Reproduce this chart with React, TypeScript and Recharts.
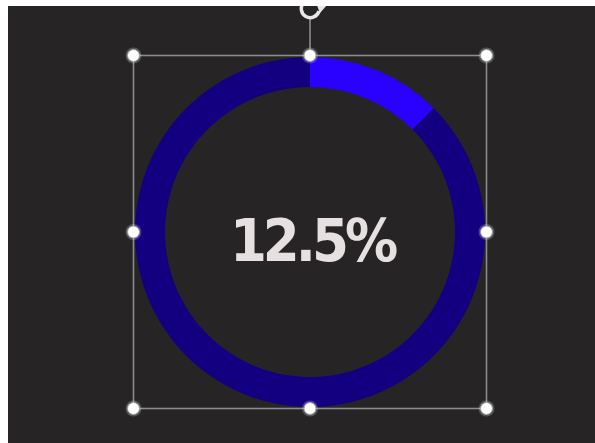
import React from "react";
import { PieChart, Pie, Cell } from "recharts";

// progress ring: one share done, rest remaining
const segmentNames = ["done", "remaining"];
const segmentValues = [12.5, 87.5];
const segmentColors = ["#2a00ff", "#130080"];

const W = 587;
const H = 437;
const CX = 302; // ring centre
const CY = 226;
const OUTER = 175;
const INNER = 145;

const data = segmentNames.map((name, i) => ({ name, value: segmentValues[i] }));

function Handle({ x, y }: { x: number; y: number }) {
  return (
    <g>
      <circle cx={x} cy={y} r={8} fill="#ffffff" opacity={0.22} />
      <circle cx={x} cy={y} r={6} fill="#ffffff" stroke="#a0a0a0" strokeWidth={1} />
    </g>
  );
}

// selection frame drawn around the ring, like the editor shows it
function SelectionFrame() {
  const half = OUTER + 1.5;
  const l = CX - half;
  const r = CX + half;
  const t = CY - half;
  const b = CY + half;
  const pts = [
    [l, t], [CX, t], [r, t],
    [l, CY], [r, CY],
    [l, b], [CX, b], [r, b],
  ];
  return (
    <svg width={W} height={H} style={{ position: "absolute", left: 0, top: 0, overflow: "hidden" }}>
      <rect x={l} y={t} width={r - l} height={b - t} fill="none" stroke="#8c8c8c" strokeWidth={1.6} />
      <line x1={CX} y1={t} x2={CX} y2={11} stroke="#8c8c8c" strokeWidth={1.6} />
      {/* rotate icon, cut off at the top edge */}
      <path d={`M ${CX + 8} ${-2} A 9 9 0 1 0 ${CX + 9} ${5}`} fill="none" stroke="#e8e8e8" strokeWidth={3.5} />
      <path d={`M ${CX + 6} ${-3} L ${CX + 17} ${-1} L ${CX + 10} ${7} Z`} fill="#e8e8e8" />
      {pts.map(([x, y], i) => (
        <Handle key={i} x={x} y={y} />
      ))}
      <text
        x={CX + 2}
        y={CY + 29}
        textAnchor="middle"
        fill="#e6e0e0"
        fontFamily="'DejaVu Sans Condensed', 'DejaVu Sans', sans-serif"
        fontWeight="bold"
        fontSize={59}
        letterSpacing={-4}
      >
        {`${segmentValues[0]}%`}
      </text>
    </svg>
  );
}

export default function App() {
  return (
    <div style={{ position: "absolute", left: 8, top: 6, width: W, height: H, background: "#262425" }}>
      <PieChart width={W} height={H} margin={{ top: 0, right: 0, bottom: 0, left: 0 }}>
        <Pie
          data={data}
          dataKey="value"
          nameKey="name"
          cx={CX}
          cy={CY}
          innerRadius={INNER}
          outerRadius={OUTER}
          startAngle={90}
          endAngle={-270}
          stroke="none"
          isAnimationActive={false}
        >
          {data.map((d, i) => (
            <Cell key={d.name} fill={segmentColors[i]} />
          ))}
        </Pie>
      </PieChart>
      <SelectionFrame />
    </div>
  );
}
